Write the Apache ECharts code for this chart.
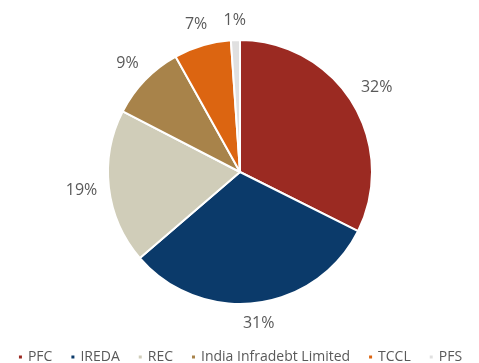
<!DOCTYPE html>
<html><head><meta charset="utf-8">
<script src="https://cdn.jsdelivr.net/npm/echarts@6/dist/echarts.min.js"></script>
<style>html,body{margin:0;padding:0;background:#fff}#c{width:479px;height:363px}</style>
</head><body><div id="c"></div>
<script>
const categories = ['PFC', 'IREDA', 'REC', 'India Infradebt Limited', 'TCCL', 'PFS'];
const values = [32.4, 31.3, 18.9, 9.3, 7.0, 1.1];
const colors = ['#9B2A22', '#0B3A6A', '#D0CDB9', '#A8834A', '#DC6511', '#E0E0E0'];

const CENTER = [240, 172];
const GAP = 11;
const chart = echarts.init(document.getElementById('c'));
chart.setOption({
  animation: false,
  color: colors,
  textStyle: { fontFamily: 'Open Sans' },
  legend: {
    top: 345,
    left: 'center',
    icon: 'rect',
    itemWidth: 5,
    itemHeight: 5,
    itemGap: 17,
    textStyle: { fontFamily: 'Open Sans', fontSize: 14, color: '#595959' },
    data: categories
  },
  series: [{
    type: 'pie',
    center: CENTER,
    radius: [0, 132],
    startAngle: 90,
    clockwise: true,
    itemStyle: { borderColor: '#fff', borderWidth: 2 },
    label: {
      show: true,
      position: 'outside',
      fontFamily: 'Open Sans',
      fontSize: 16,
      color: '#595959',
      formatter: p => Math.round(p.percent) + '%'
    },
    labelLine: { show: true, length: 10, length2: 0, lineStyle: { opacity: 0 } },
    labelLayout: function (params) {
      const pts = params.labelLinePoints;
      if (!pts) return {};
      const p0 = pts[0];
      let dx = p0[0] - CENTER[0], dy = p0[1] - CENTER[1];
      const len = Math.sqrt(dx * dx + dy * dy) || 1;
      dx /= len; dy /= len;
      const hw = params.labelRect.width / 2, hh = 8;
      const d = GAP + hw * Math.abs(dx) + hh * Math.abs(dy);
      return {
        x: p0[0] + dx * d,
        y: p0[1] + dy * d,
        align: 'center',
        verticalAlign: 'middle'
      };
    },
    data: categories.map((n, i) => ({ name: n, value: values[i] }))
  }]
});
</script></body></html>
